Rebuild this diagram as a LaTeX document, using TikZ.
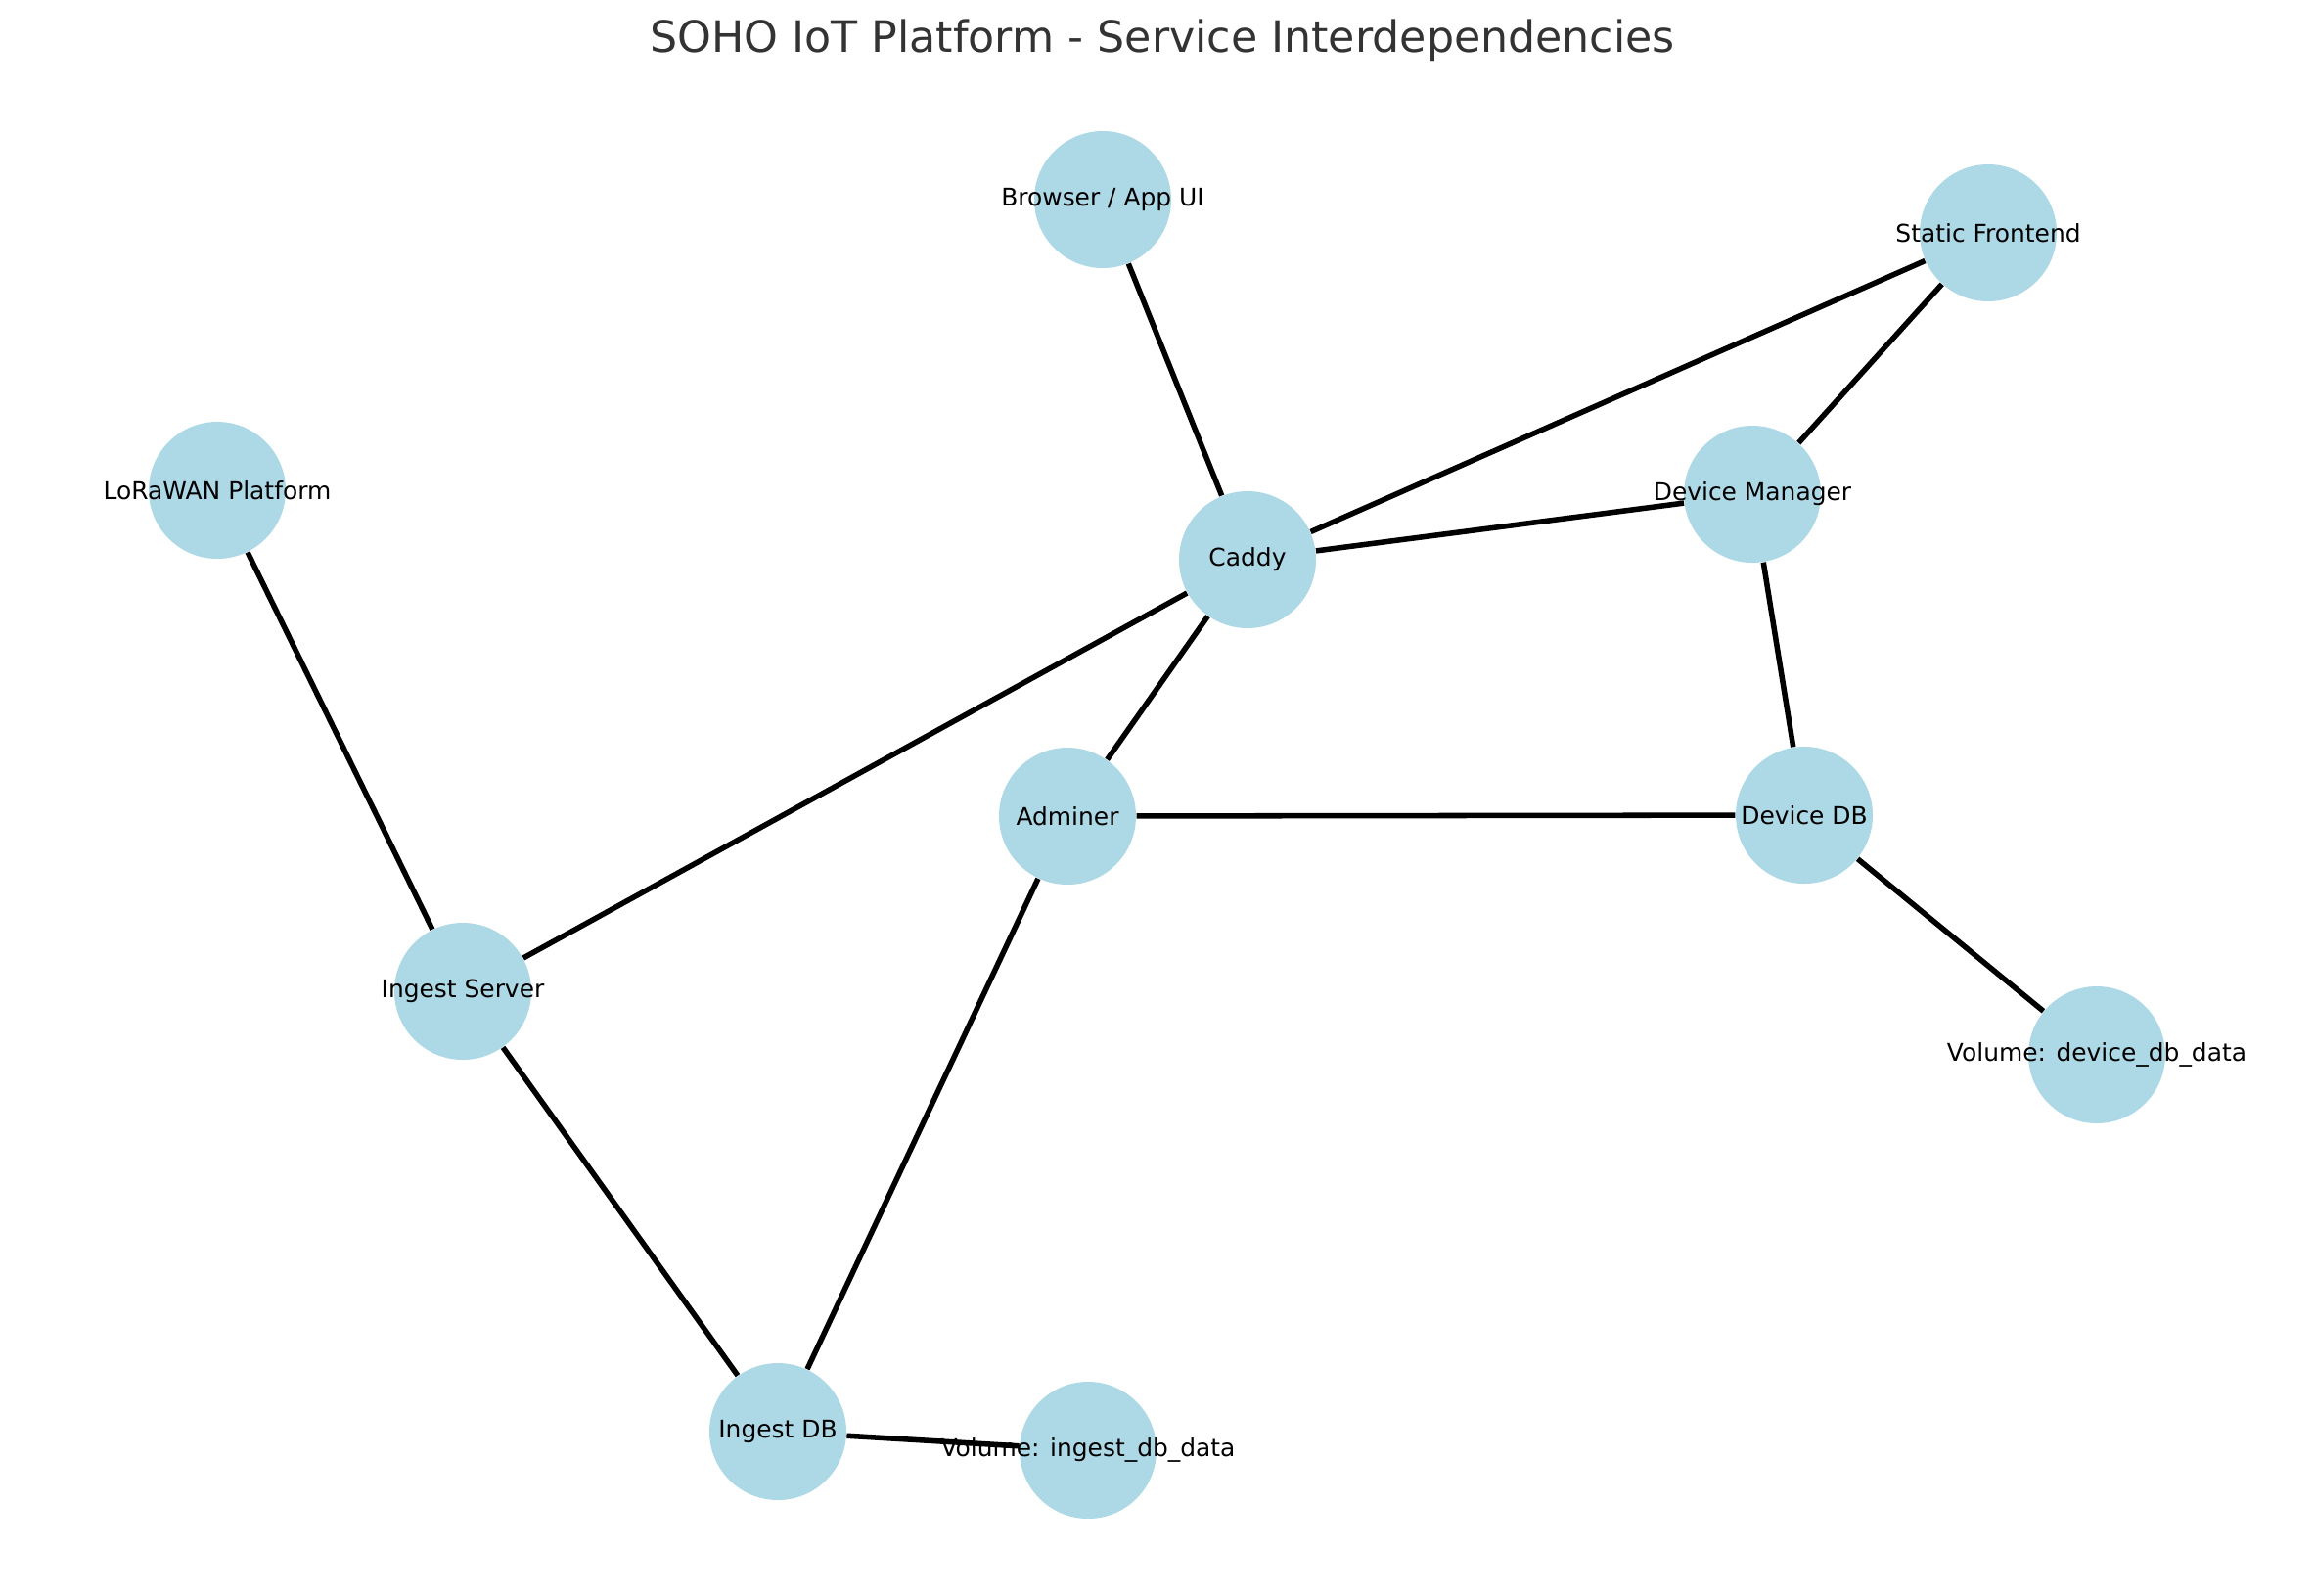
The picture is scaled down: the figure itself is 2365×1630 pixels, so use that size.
\documentclass[tikz,border=0pt]{standalone}
\usepackage{fontspec}
\setmainfont{DejaVu Sans}
\usetikzlibrary{backgrounds}
\definecolor{nodeblue}{RGB}{173,216,230}
\definecolor{titlegray}{RGB}{51,51,51}
\tikzset{
  svc/.style={circle, fill=nodeblue, minimum size=140*0.0127cm, inner sep=0pt,
    label={[font=\fontsize{9}{11}\selectfont, inner sep=0pt]center:#1}},
  link/.style={line width=2pt, black}
}
\begin{document}
\begin{tikzpicture}[x=0.0127cm, y=-0.0127cm]
      \useasboundingbox (0,0) rectangle (2365,1630);
      \coordinate (B) at (1127,204);
      \coordinate (S) at (2032,238);
      \coordinate (L) at (222,501);
      \coordinate (M) at (1791,505);
      \coordinate (C) at (1275,572);
      \coordinate (A) at (1091,834);
      \coordinate (D) at (1844,833);
      \coordinate (I) at (473,1013);
      \coordinate (V) at (2143,1078);
      \coordinate (G) at (795,1463);
      \coordinate (W) at (1112,1482);
      \node[font=\fontsize{16}{19}\selectfont, text=titlegray] (title) at (1188,41) {SOHO IoT Platform - Service Interdependencies};
      \node[svc={Browser / App UI}] (browser) at (B) {};
      \node[svc={Static Frontend}] (static) at (S) {};
      \node[svc={LoRaWAN Platform}] (lora) at (L) {};
      \node[svc={Device Manager}] (devmgr) at (M) {};
      \node[svc={Caddy}] (caddy) at (C) {};
      \node[svc={Adminer}] (adminer) at (A) {};
      \node[svc={Device DB}] (devdb) at (D) {};
      \node[svc={Ingest Server}] (ingsrv) at (I) {};
      \node[svc={Volume: device\_db\_data}] (voldev) at (V) {};
      \node[svc={Ingest DB}] (ingdb) at (G) {};
      \node[svc={Volume: ingest\_db\_data}] (voling) at (W) {};
      \begin{scope}[on background layer]
        \draw[link] (browser) -- (caddy);
        \draw[link] (static) -- (caddy) (static) -- (devmgr);
        \draw[link] (caddy) -- (devmgr) (caddy) -- (ingsrv) (caddy) -- (adminer);
        \draw[link] (lora) -- (ingsrv);
        \draw[link] (devmgr) -- (devdb);
        \draw[link] (adminer) -- (devdb) (adminer) -- (ingdb);
        \draw[link] (devdb) -- (voldev);
        \draw[link] (ingsrv) -- (ingdb);
        \draw[link] (ingdb) -- (voling);
      \end{scope}
    \end{tikzpicture}
\end{document}
